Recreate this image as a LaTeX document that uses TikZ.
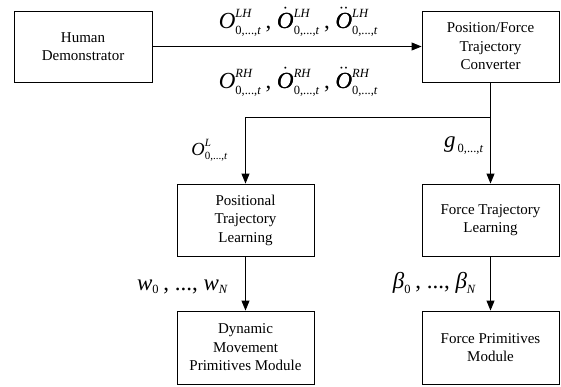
\documentclass[tikz,border=0pt]{standalone}
\usepackage{fontspec}
\usepackage{amsmath}
\setmainfont{Liberation Serif}
\usetikzlibrary{arrows.meta}
\DeclareMathSizes{23}{23}{12.5}{10}
\DeclareMathSizes{18.5}{18.5}{11}{9}
\newcommand{\mysub}{\text{0,...,\textit{t}}}
\newcommand{\adot}[1]{\text{\rlap{\smash{$\dot{\text{#1}}$}}#1}}
\newcommand{\addot}[1]{\text{\rlap{\smash{$\ddot{\text{#1}}$}}#1}}
\newcommand{\sep}{\,\text{, }}
\tikzset{
  blk/.style={draw, line width=0.9pt, minimum width=137pt, minimum height=72pt,
    align=center, font=\fontsize{15}{18.5}\selectfont, inner sep=0pt},
  lab/.style={inner sep=0pt, font=\fontsize{23}{27}\selectfont},
  slab/.style={inner sep=0pt, font=\fontsize{18.5}{22}\selectfont},
  conn/.style={line width=0.9pt},
  arr/.style={conn, -{Triangle[length=10pt,width=8pt]}}
}
\begin{document}
\begin{tikzpicture}[x=1pt,y=-1pt]
\useasboundingbox (0,0) rectangle (561,386);
\node[blk, minimum width=138pt, minimum height=71pt] (hd) at (83,46.5) {Human\\Demonstrator};
\node[blk, minimum height=71pt] (cv) at (490.5,46.5) {Position/Force\\Trajectory\\Converter};
\node[blk] (pt) at (245.5,220) {Positional\\Trajectory\\Learning};
\node[blk] (ft) at (490.5,220) {Force Trajectory\\Learning};
\node[blk, minimum height=73pt] (dm) at (245.5,347.5) {Dynamic\\Movement\\Primitives Module};
\node[blk, minimum height=73pt] (fp) at (490.5,347.5) {Force Primitives\\Module};

\coordinate (j) at (490.5,117);
\coordinate (k) at (245.5,117);

\draw[arr] (hd) -- (cv);
\draw[conn] (cv.south) -- (j);
\draw[arr] (j) -- (ft.north);
\draw[arr] (j) -- (k) -- (pt.north);
\draw[arr] (pt.south) -- (dm.north);
\draw[arr] (ft.south) -- (fp.north);

\node[lab, anchor=base] (tl) at (298.5,28)
  {$\textit{O}^{\textit{LH}}_{\mysub}\sep\adot{\textit{O}}^{\textit{LH}}_{\mysub}\sep\addot{\textit{O}}^{\textit{LH}}_{\mysub}$};
\node[lab, anchor=base] (bl) at (298.5,88)
  {$\textit{O}^{\textit{RH}}_{\mysub}\sep\adot{\textit{O}}^{\textit{RH}}_{\mysub}\sep\addot{\textit{O}}^{\textit{RH}}_{\mysub}$};
\node[slab, anchor=base east] (ol) at (228,155) {$\textit{O}^{\textit{L}}_{\mysub}$};
\node[lab, anchor=base east] (gl) at (484,147) {$\textit{g}_{\,\mysub}$};
\node[lab, anchor=base east] (wl) at (228,290) {$\textit{w}_{\text{0}}\sep\text{..., }\textit{w}_{\textit{N}}$};
\node[lab, anchor=base east] (bt) at (476,288) {$\textit{β}_{\text{0}}\sep\text{..., }\textit{β}_{\textit{N}}$};
\end{tikzpicture}
\end{document}
